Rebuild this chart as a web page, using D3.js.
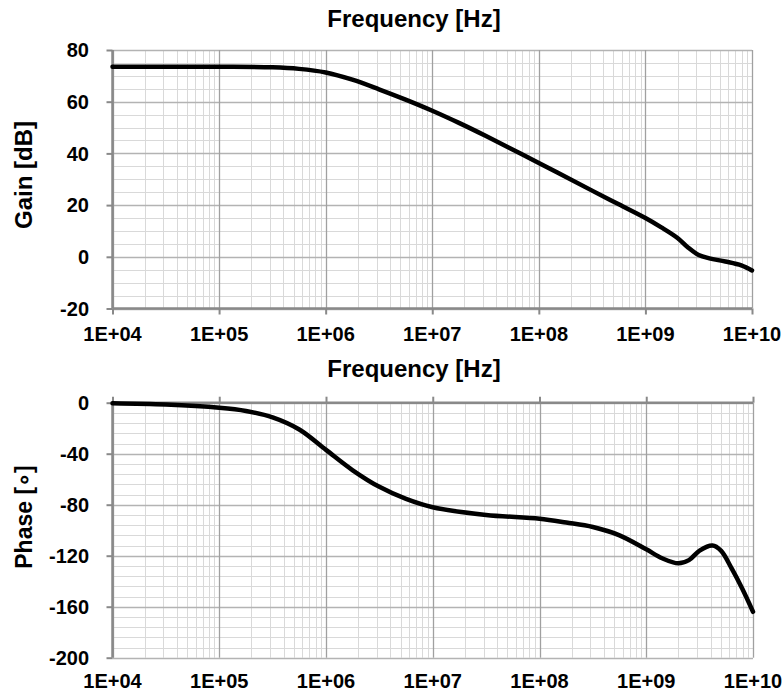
<!DOCTYPE html>
<html>
<head>
<meta charset="utf-8">
<script src="https://cdn.jsdelivr.net/npm/d3@7"></script>
<style>
  html, body { margin: 0; padding: 0; background: #fff; }
  svg { display: block; }
  text { font-family: "Liberation Sans", Arial, sans-serif; font-weight: bold; fill: #000; }
</style>
</head>
<body>
<svg id="chart" width="783" height="696"></svg>
<script>
// ---- data ----
const gainFreq = [1e4, 1e5, 3.16e5, 5.62e5, 1e6, 1.78e6, 3.16e6, 5.62e6, 1e7, 1.78e7, 3.16e7, 1e8, 3.16e8, 5.62e8, 1e9, 1.41e9, 2e9, 2.51e9, 3.16e9, 3.98e9, 5.62e9, 7.94e9, 1e10];
const gainDb   = [73.5, 73.5, 73.3, 72.7, 71.3, 68.5, 64.8, 60.8, 56.5, 51.8, 46.8, 36.3, 25.6, 20.3, 15, 11.4, 7.3, 3.6, 0.7, -0.6, -1.8, -3.3, -5.3];

const phaseFreq = [1e4, 3.16e4, 1e5, 1.78e5, 3.16e5, 5.62e5, 1e6, 1.78e6, 3.16e6, 5.62e6, 1e7, 3.16e7, 1e8, 1.78e8, 3.16e8, 5.62e8, 1e9, 1.41e9, 2e9, 2.51e9, 3.16e9, 4.17e9, 5.01e9, 6.31e9, 7.94e9, 1e10];
const phaseDeg  = [-0.5, -1.5, -4, -6.5, -11.5, -21, -37, -53, -66, -75.5, -82, -88, -91, -94, -97.5, -104, -115, -122, -126, -123.5, -116, -112, -116, -130, -146, -164];

const xTickLabels = ["1E+04", "1E+05", "1E+06", "1E+07", "1E+08", "1E+09", "1E+10"];
const xDomain = [1e4, 1e10];
const gainTicks = [-20, 0, 20, 40, 60, 80];
const phaseTicks = [-200, -160, -120, -80, -40, 0];
const xTitle = "Frequency [Hz]";
const gainTitle = "Gain [dB]";
const phaseTitle = "Phase [∘]";

// ---- drawing ----
const svg = d3.select("#chart");
const minorCol = "#d9d9d9", majorHCol = "#b3b3b3", majorVCol = "#a0a0a0", axisCol = "#898989";

function panel(cfg) {
  const g = svg.append("g");
  const x = d3.scaleLog().domain(xDomain).range(cfg.xRange);
  const y = d3.scaleLinear().domain(cfg.yDomain).range(cfg.yRange);
  const [x0, x1] = cfg.xRange;
  const [yb, yt] = cfg.yRange;

  const allX = x.ticks();
  const isMajor = v => Math.abs(Math.log10(v) - Math.round(Math.log10(v))) < 1e-9;

  g.selectAll(".mh").data(cfg.minorY).join("line")
    .attr("x1", x0).attr("x2", x1)
    .attr("y1", d => Math.round(y(d)) + 0.5).attr("y2", d => Math.round(y(d)) + 0.5)
    .attr("stroke", minorCol).attr("stroke-width", 1);
  g.selectAll(".mv").data(allX.filter(v => !isMajor(v))).join("line")
    .attr("x1", d => Math.round(x(d)) + 0.5).attr("x2", d => Math.round(x(d)) + 0.5)
    .attr("y1", yt).attr("y2", yb)
    .attr("stroke", minorCol).attr("stroke-width", 1);
  g.selectAll(".Mh").data(cfg.yTicks).join("line")
    .attr("x1", x0).attr("x2", x1)
    .attr("y1", d => Math.round(y(d)) + 0.5).attr("y2", d => Math.round(y(d)) + 0.5)
    .attr("stroke", majorHCol).attr("stroke-width", 1.3);
  g.selectAll(".Mv").data(allX.filter(isMajor)).join("line")
    .attr("x1", d => Math.round(x(d)) + 0.5).attr("x2", d => Math.round(x(d)) + 0.5)
    .attr("y1", yt).attr("y2", yb)
    .attr("stroke", majorVCol).attr("stroke-width", 1.3);

  const yAxis = d3.axisLeft(y).tickValues(cfg.yTicks).tickSize(6).tickFormat("");
  const ya = g.append("g").attr("transform", `translate(${x0},0)`).call(yAxis);
  ya.select(".domain").remove();
  ya.selectAll("line").attr("stroke", axisCol).attr("stroke-width", 2);
  g.append("line").attr("x1", x0).attr("x2", x0).attr("y1", yt).attr("y2", yb)
    .attr("stroke", axisCol).attr("stroke-width", 2.5);
  g.selectAll(".yl").data(cfg.yTicks).join("text")
    .attr("x", 89).attr("y", d => y(d)).attr("dy", "0.36em")
    .attr("text-anchor", "end").style("font-size", "20px").text(d => d);

  const ax = y(cfg.xAxisAt);
  const xAxis = (cfg.tickUp ? d3.axisTop(x) : d3.axisBottom(x))
    .tickValues(allX.filter(isMajor)).tickSize(6).tickFormat("");
  const xa = g.append("g").attr("transform", `translate(0,${ax})`).call(xAxis);
  xa.select(".domain").remove();
  xa.selectAll("line").attr("stroke", axisCol).attr("stroke-width", 2);
  g.append("line").attr("x1", x0).attr("x2", x1).attr("y1", ax).attr("y2", ax)
    .attr("stroke", axisCol).attr("stroke-width", 2.5);

  g.selectAll(".xl").data(allX.filter(isMajor)).join("text")
    .attr("x", d => x(d)).attr("y", cfg.xLabelY)
    .attr("text-anchor", "middle").style("font-size", "20px")
    .text((d, i) => xTickLabels[i]);

  const line = d3.line().x(d => x(d[0])).y(d => y(d[1])).curve(d3.curveCatmullRom.alpha(0.5));
  g.append("path").datum(d3.zip(cfg.fx, cfg.fy))
    .attr("d", line).attr("fill", "none")
    .attr("stroke", "#000").attr("stroke-width", 4.5).attr("stroke-linejoin", "round").attr("stroke-linecap", "round");

  g.append("text").attr("x", 414).attr("y", cfg.titleY).attr("text-anchor", "middle")
    .style("font-size", "24px").text(xTitle);
  g.append("text").attr("transform", `translate(32,${cfg.yTitleC}) rotate(-90)`)
    .attr("text-anchor", "middle").style("font-size", cfg.yTitleSize).text(cfg.yTitle);
}

panel({
  xRange: [112.5, 752], yDomain: [-20, 80], yRange: [308.5, 50],
  yTicks: gainTicks, minorY: d3.range(-20, 80.1, 5), xAxisAt: -20, tickUp: false,
  xLabelY: 341, fx: gainFreq, fy: gainDb, titleY: 27, yTitle: gainTitle, yTitleC: 175, yTitleSize: "24px"
});
panel({
  xRange: [112.5, 753], yDomain: [-200, 0], yRange: [657.7, 402.7],
  yTicks: phaseTicks, minorY: d3.range(-200, 0.1, 8), xAxisAt: 0, tickUp: true,
  xLabelY: 688, fx: phaseFreq, fy: phaseDeg, titleY: 377, yTitle: phaseTitle, yTitleC: 517, yTitleSize: "23px"
});
</script>
</body>
</html>
